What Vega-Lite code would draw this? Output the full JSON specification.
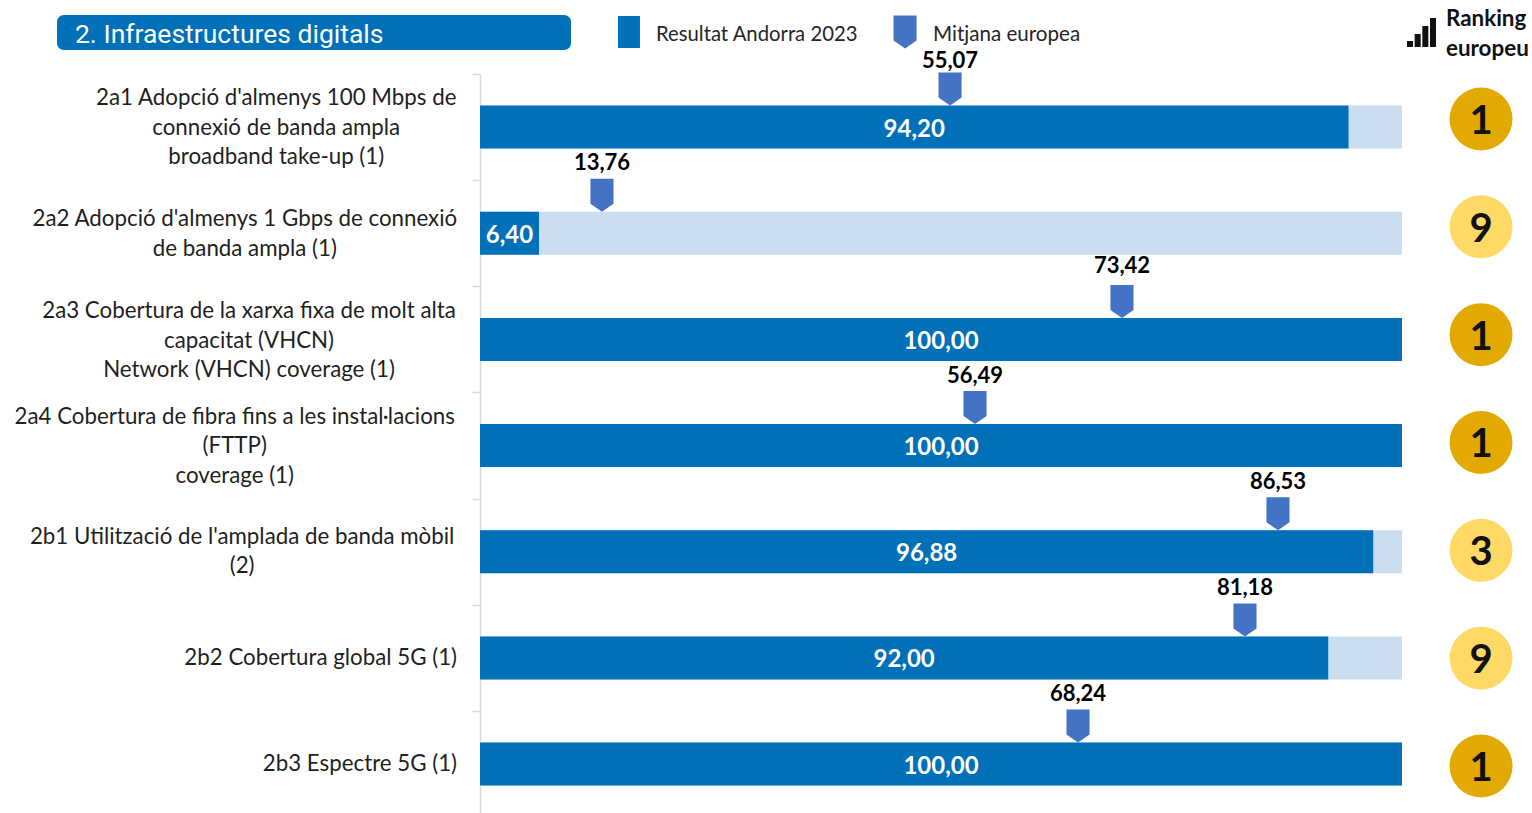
{
"$schema":"https://vega.github.io/schema/vega-lite/v6.json",
"autosize":"none",
"padding":{"left":480,"top":74,"right":130,"bottom":0},
"width":922,"height":739,
"background":"white",
"config":{"view":{"stroke":null},"text":{"font":"Lato"}},
"datasets":{"rows":[
{"fila":1,"codi":"2a1","indicador":"2a1 Adopció d'almenys 100 Mbps de|connexió de banda ampla|broadband take-up (1)","resultat":94.20,"resultat_text":"94,20","marcador":50.98,"mitjana_text":"55,07","ranking":1},
{"fila":2,"codi":"2a2","indicador":"2a2 Adopció d'almenys 1 Gbps de connexió|de banda ampla (1)","resultat":6.40,"resultat_text":"6,40","marcador":13.23,"mitjana_text":"13,76","ranking":9},
{"fila":3,"codi":"2a3","indicador":"2a3 Cobertura de la xarxa fixa de molt alta|capacitat (VHCN)|Network (VHCN) coverage (1)","resultat":100,"resultat_text":"100,00","marcador":69.63,"mitjana_text":"73,42","ranking":1},
{"fila":4,"codi":"2a4","indicador":"2a4 Cobertura de fibra fins a les instal·lacions|(FTTP)|coverage (1)","resultat":100,"resultat_text":"100,00","marcador":53.69,"mitjana_text":"56,49","ranking":1},
{"fila":5,"codi":"2b1","indicador":"2b1 Utilització de l'amplada de banda mòbil|(2)","resultat":96.88,"resultat_text":"96,88","marcador":86.55,"mitjana_text":"86,53","ranking":3},
{"fila":6,"codi":"2b2","indicador":"2b2 Cobertura global 5G (1)","resultat":92.00,"resultat_text":"92,00","marcador":82.97,"mitjana_text":"81,18","ranking":9},
{"fila":7,"codi":"2b3","indicador":"2b3 Espectre 5G (1)","resultat":100,"resultat_text":"100,00","marcador":64.86,"mitjana_text":"68,24","ranking":1}
]},
"resolve":{"scale":{"x":"independent","y":"independent"}},
"layer":[
{"layer":[
 {"data":{"name":"rows"},"mark":{"type":"bar","orient":"horizontal","size":43,"color":"#CBDEF0"},
  "encoding":{
   "x":{"datum":0,"type":"quantitative","scale":{"domain":[0,100],"nice":false,"zero":false,"padding":0},"axis":null},
   "x2":{"datum":100},
   "y":{"field":"fila","type":"quantitative","scale":{"domain":[7.461,0.5],"nice":false,"zero":false,"padding":0},
    "axis":{"values":[0.5,1.5,2.5,3.5,4.5,5.5,6.5,7.5],"labels":false,"grid":false,"title":null,"domainColor":"#D9D9D9","tickColor":"#D9D9D9","tickSize":8,"domainWidth":1.5,"tickWidth":1.5}}}},
 {"data":{"name":"rows"},"mark":{"type":"bar","orient":"horizontal","size":43,"color":"#0070B8"},
  "encoding":{"x":{"field":"resultat","type":"quantitative"},"x2":{"datum":0},"y":{"field":"fila","type":"quantitative"}}},
 {"data":{"name":"rows"},"transform":[{"filter":"datum.fila==1"}],"mark":{"type":"text","lineBreak":"|","lineHeight":29.5,"align":"center","baseline":"middle","fontSize":22.3,"color":"#1F1F1F","dy":-29},"encoding":{"x":{"datum":-22.1},"y":{"field":"fila","type":"quantitative"},"text":{"field":"indicador"}}},
 {"data":{"name":"rows"},"transform":[{"filter":"datum.fila==2"}],"mark":{"type":"text","lineBreak":"|","lineHeight":29.5,"align":"center","baseline":"middle","fontSize":22.3,"color":"#1F1F1F","dy":-14},"encoding":{"x":{"datum":-25.5},"y":{"field":"fila","type":"quantitative"},"text":{"field":"indicador"}}},
 {"data":{"name":"rows"},"transform":[{"filter":"datum.fila==3"}],"mark":{"type":"text","lineBreak":"|","lineHeight":29.5,"align":"center","baseline":"middle","fontSize":22.3,"color":"#1F1F1F","dy":-28},"encoding":{"x":{"datum":-25.05},"y":{"field":"fila","type":"quantitative"},"text":{"field":"indicador"}}},
 {"data":{"name":"rows"},"transform":[{"filter":"datum.fila==4"}],"mark":{"type":"text","lineBreak":"|","lineHeight":29.5,"align":"center","baseline":"middle","fontSize":22.3,"color":"#1F1F1F","dy":-29},"encoding":{"x":{"datum":-26.6},"y":{"field":"fila","type":"quantitative"},"text":{"field":"indicador"}}},
 {"data":{"name":"rows"},"transform":[{"filter":"datum.fila==5"}],"mark":{"type":"text","lineBreak":"|","lineHeight":29.5,"align":"center","baseline":"middle","fontSize":22.3,"color":"#1F1F1F","dy":-15},"encoding":{"x":{"datum":-25.8},"y":{"field":"fila","type":"quantitative"},"text":{"field":"indicador"}}},
 {"data":{"name":"rows"},"transform":[{"filter":"datum.fila>=6"}],"mark":{"type":"text","align":"right","baseline":"middle","fontSize":22.3,"color":"#1F1F1F"},"encoding":{"x":{"datum":-2.49},"y":{"field":"fila","type":"quantitative"},"text":{"field":"indicador"}}},
 {"data":{"name":"rows"},"transform":[{"filter":"datum.fila==1"}],"mark":{"type":"text","align":"center","baseline":"middle","fontSize":22,"fontWeight":"bold","color":"#000000","dy":-66},"encoding":{"x":{"field":"marcador","type":"quantitative"},"y":{"field":"fila","type":"quantitative"},"text":{"field":"mitjana_text"}}},
 {"data":{"name":"rows"},"transform":[{"filter":"datum.fila==3"}],"mark":{"type":"text","align":"center","baseline":"middle","fontSize":22,"fontWeight":"bold","color":"#000000","dy":-73},"encoding":{"x":{"field":"marcador","type":"quantitative"},"y":{"field":"fila","type":"quantitative"},"text":{"field":"mitjana_text"}}},
 {"data":{"name":"rows"},"transform":[{"filter":"datum.fila!=1 && datum.fila!=3"}],"mark":{"type":"text","align":"center","baseline":"middle","fontSize":22,"fontWeight":"bold","color":"#000000","dy":-70},"encoding":{"x":{"field":"marcador","type":"quantitative"},"y":{"field":"fila","type":"quantitative"},"text":{"field":"mitjana_text"}}},
 {"data":{"values":[{"t":"2. Infraestructures digitals"}]},"mark":{"type":"rect","color":"#0070B8","cornerRadius":7},"encoding":{"x":{"datum":-45.88},"x2":{"datum":9.87},"y":{"datum":-0.0557},"y2":{"datum":0.274}}},
 {"data":{"values":[{"t":"2. Infraestructures digitals"}]},"mark":{"type":"text","font":"Roboto","align":"left","baseline":"middle","fontSize":26.5,"color":"#FFFFFF","dy":3},"encoding":{"x":{"datum":-43.93},"y":{"datum":0.109},"text":{"field":"t"}}},
 {"data":{"values":[{"t":"Resultat Andorra 2023"}]},"mark":{"type":"rect","color":"#0070B8"},"encoding":{"x":{"datum":14.97},"x2":{"datum":17.35},"y":{"datum":-0.0463},"y2":{"datum":0.255}}},
 {"data":{"values":[{"t":"Resultat Andorra 2023"}]},"mark":{"type":"text","align":"left","baseline":"middle","fontSize":20.3,"color":"#262626","dy":2},"encoding":{"x":{"datum":19.09},"y":{"datum":0.1138},"text":{"field":"t"}}},
 {"data":{"values":[{"t":"Mitjana europea"}]},"mark":{"type":"point","filled":true,"opacity":1,"size":1089,"color":"#4472C4","shape":"M-0.7,-1 L0.7,-1 L0.7,0.515 L0,1 L-0.7,0.515 Z"},"encoding":{"x":{"datum":46.1},"y":{"datum":0.104}}},
 {"data":{"values":[{"t":"Mitjana europea"}]},"mark":{"type":"text","align":"left","baseline":"middle","fontSize":20.6,"color":"#262626","dy":2},"encoding":{"x":{"datum":49.13},"y":{"datum":0.1138},"text":{"field":"t"}}},
 {"data":{"values":[{"t":"Ranking|europeu"}]},"mark":{"type":"text","lineBreak":"|","lineHeight":30,"align":"left","baseline":"middle","fontSize":22.4,"fontWeight":"bold","color":"#111111","dy":-14},"encoding":{"x":{"datum":104.77},"y":{"datum":0.114},"text":{"field":"t"}}}
]},
{"layer":[
 {"data":{"name":"rows"},"mark":{"type":"point","filled":true,"opacity":1,"size":1089,"color":"#4472C4","shape":"M-0.7,-1 L0.7,-1 L0.7,0.515 L0,1 L-0.7,0.515 Z"},
  "encoding":{
   "x":{"field":"marcador","type":"quantitative","scale":{"domain":[0,100],"nice":false,"zero":false},"axis":null},
   "y":{"field":"fila","type":"quantitative","scale":{"domain":[7.819,0.858],"nice":false,"zero":false},"axis":null}}}
]},
{"layer":[
 {"data":{"name":"rows"},"mark":{"type":"text","align":"center","baseline":"middle","fontSize":24,"fontWeight":"bold","color":"#FFFFFF","dy":2.5},
  "encoding":{
   "x":{"field":"resultat","type":"quantitative","scale":{"domain":[0,200],"nice":false,"zero":false},"axis":null},
   "y":{"field":"fila","type":"quantitative","scale":{"domain":[7.461,0.5],"nice":false,"zero":false},"axis":null},
   "text":{"field":"resultat_text"}}}
]},
{"layer":[
 {"data":{"name":"rows"},"mark":{"type":"point","filled":true,"opacity":1,"size":3969,"shape":"circle"},
  "encoding":{
   "x":{"datum":108.57,"type":"quantitative","scale":{"domain":[0,100],"nice":false,"zero":false},"axis":null},
   "y":{"field":"fila","type":"quantitative","scale":{"domain":[7.436,0.5827],"nice":false,"zero":false},"axis":null},
   "color":{"field":"ranking","type":"nominal","scale":{"domain":[1,3,9],"range":["#E2A900","#FFD966","#FFD966"]},"legend":null}}},
 {"data":{"name":"rows"},"mark":{"type":"text","align":"center","baseline":"middle","fontSize":40,"fontWeight":"bold","color":"#111111","dy":3},
  "encoding":{
   "x":{"datum":108.57,"type":"quantitative"},
   "y":{"field":"fila","type":"quantitative"},
   "text":{"field":"ranking"}}}
]},
{"layer":[
 {"data":{"values":[{"nivell":1,"alcada":6},{"nivell":2,"alcada":13},{"nivell":3,"alcada":21},{"nivell":4,"alcada":29}]},
  "mark":{"type":"rule","strokeWidth":6,"color":"#111111"},
  "encoding":{
   "x":{"field":"nivell","type":"quantitative","scale":{"domain":[-120.25,-0.043],"nice":false,"zero":false},"axis":null},
   "y":{"field":"alcada","type":"quantitative","scale":{"domain":[-766,-27],"nice":false,"zero":false},"axis":null},
   "y2":{"datum":0}}}
]}
]
}
